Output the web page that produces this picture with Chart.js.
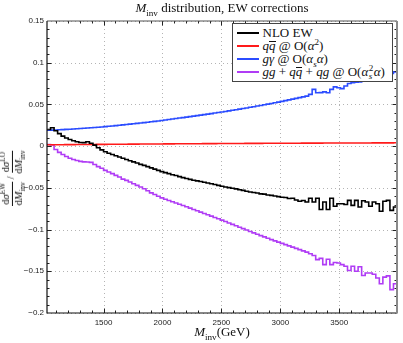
<!DOCTYPE html>
<html>
<head>
<meta charset="utf-8">
<script src="https://cdn.jsdelivr.net/npm/chart.js@4.4.0/dist/chart.umd.min.js"></script>
<style>
body { margin: 0; background: #fff; }
#wrap { position: relative; width: 403px; height: 343px; overflow: hidden; font-family: 'Liberation Serif', serif; color: #111; }
#chart { position: absolute; left: 0; top: 0; }
#title { position: absolute; left: 47px; width: 350px; top: 0; line-height: 16px; text-align: center; font-size: 13px; }
#xlabel { position: absolute; left: 47px; width: 350px; top: 324px; line-height: 16px; text-align: center; font-size: 13px; }
#ylabel { position: absolute; left: 12px; top: 178px; transform: translate(-50%, -50%) rotate(-90deg); white-space: nowrap; font-size: 10.5px; }
.frac { display: inline-flex; flex-direction: column; align-items: center; vertical-align: middle; line-height: 1.1; }
.frac > span:first-child { border-bottom: 0.8px solid #111; padding: 0 1px; }
sub, sup { font-size: 70%; line-height: 0; }
.it { font-style: italic; }
.bar { display: inline-block; border-top: 0.9px solid #111; line-height: 0.62em; padding-top: 0.5px; }
.ss { display: inline-flex; flex-direction: column; vertical-align: middle; font-size: 70%; line-height: 0.85; margin: 0 0.5px; }
#legend { position: absolute; left: 232px; top: 23px; width: 159px; height: 55px; background: #fff; border: 1.5px solid #444; padding-top: 2px; }
.row { position: relative; height: 13px; line-height: 13px; font-size: 13px; white-space: nowrap; }
.row .swatch { position: absolute; left: 4px; top: 6px; width: 22px; height: 1.6px; }
.row .txt { position: absolute; left: 29.5px; top: 0; }
</style>
</head>
<body>
<div id="wrap">
  <canvas id="chart" width="403" height="343"></canvas>
  <div id="title"><span class="it">M</span><sub>inv</sub> distribution, EW corrections</div>
  <div id="xlabel"><span class="it">M</span><sub>inv</sub>(GeV)</div>
  <div id="ylabel"><span class="frac"><span>d<span class="it">σ</span><sup>EW</sup></span><span>d<span class="it">M</span><sub>inv</sub></span></span> / <span class="frac"><span>d<span class="it">σ</span><sup>LO</sup></span><span>d<span class="it">M</span><sub>inv</sub></span></span></div>
  <div id="legend">
    <div class="row"><span class="swatch" style="background:#000"></span><span class="txt">NLO EW</span></div>
    <div class="row"><span class="swatch" style="background:#ff1a1a"></span><span class="txt"><span class="it">q<span class="bar">q</span></span> @ O(<span class="it">α</span><sup>2</sup>)</span></div>
    <div class="row"><span class="swatch" style="background:#2b4cff"></span><span class="txt"><span class="it">gγ</span> @ O(<span class="it">α<sub>s</sub>α</span>)</span></div>
    <div class="row"><span class="swatch" style="background:#b03cf5"></span><span class="txt"><span class="it">gg</span> + <span class="it">q<span class="bar">q</span></span> + <span class="it">qg</span> @ O(<span class="it">α</span><span class="ss"><span>2</span><span class="it">s</span></span><span class="it">α</span>)</span></div>
  </div>
</div>
<script>
// Histogram binning (GeV)
const BIN_LO = 1020;
const BIN_W = 30;

// Axis ticks
const XTICKS = [1500, 2000, 2500, 3000, 3500];
const YTICKS = [-0.2, -0.15, -0.1, -0.05, 0, 0.05, 0.1, 0.15];

// Ratios per bin
const NLO_EW = [
  0.0200, 0.0220, 0.0185, 0.0150, 0.0120, 0.0098, 0.0080, 0.0065, 0.0052, 0.0044,
  0.0042, 0.0052, 0.0035, 0.0012, -0.0020, -0.0045, -0.0068, -0.0085, -0.0100, -0.0115,
  -0.0130, -0.0145, -0.0160, -0.0175, -0.0188, -0.0202, -0.0218, -0.0230, -0.0245, -0.0260,
  -0.0275, -0.0290, -0.0305, -0.0318, -0.0330, -0.0342, -0.0352, -0.0365, -0.0377, -0.0388,
  -0.0398, -0.0408, -0.0416, -0.0424, -0.0432, -0.0441, -0.0450, -0.0460, -0.0470, -0.0480,
  -0.0490, -0.0497, -0.0505, -0.0512, -0.0522, -0.0530, -0.0540, -0.0550, -0.0556, -0.0562,
  -0.0572, -0.0575, -0.0585, -0.0590, -0.0597, -0.0605, -0.0612, -0.0615, -0.0628, -0.0625,
  -0.0645, -0.0660, -0.0652, -0.0670, -0.0625, -0.0670, -0.0625, -0.0760, -0.0670, -0.0760,
  -0.0625, -0.0720, -0.0690, -0.0690, -0.0700, -0.0650, -0.0710, -0.0650, -0.0730, -0.0655,
  -0.0670, -0.0720, -0.0670, -0.0690, -0.0780, -0.0660, -0.0650, -0.0770, -0.0730
];
const QQ_A2 = [
  0.0016, 0.0016, 0.0017, 0.0017, 0.0017, 0.0018, 0.0018, 0.0018, 0.0019, 0.0019,
  0.0019, 0.0020, 0.0020, 0.0020, 0.0021, 0.0021, 0.0021, 0.0022, 0.0022, 0.0022,
  0.0023, 0.0023, 0.0023, 0.0024, 0.0024, 0.0024, 0.0025, 0.0025, 0.0025, 0.0026,
  0.0026, 0.0026, 0.0026, 0.0027, 0.0027, 0.0027, 0.0028, 0.0028, 0.0028, 0.0028,
  0.0029, 0.0029, 0.0029, 0.0029, 0.0030, 0.0030, 0.0030, 0.0030, 0.0031, 0.0031,
  0.0031, 0.0031, 0.0032, 0.0032, 0.0032, 0.0032, 0.0033, 0.0033, 0.0033, 0.0033,
  0.0033, 0.0034, 0.0034, 0.0034, 0.0034, 0.0034, 0.0035, 0.0035, 0.0035, 0.0035,
  0.0035, 0.0035, 0.0036, 0.0036, 0.0036, 0.0036, 0.0036, 0.0036, 0.0037, 0.0037,
  0.0037, 0.0037, 0.0037, 0.0037, 0.0037, 0.0038, 0.0038, 0.0038, 0.0038, 0.0038,
  0.0038, 0.0038, 0.0039, 0.0039, 0.0039, 0.0039, 0.0039, 0.0039, 0.0040
];
const GA_ASA = [
  0.0190, 0.0192, 0.0194, 0.0196, 0.0198, 0.0201, 0.0203, 0.0206, 0.0208, 0.0211,
  0.0214, 0.0217, 0.0220, 0.0223, 0.0227, 0.0230, 0.0234, 0.0238, 0.0242, 0.0246,
  0.0251, 0.0255, 0.0259, 0.0264, 0.0268, 0.0273, 0.0277, 0.0282, 0.0287, 0.0292,
  0.0297, 0.0302, 0.0308, 0.0314, 0.0320, 0.0326, 0.0331, 0.0337, 0.0342, 0.0348,
  0.0354, 0.0360, 0.0366, 0.0372, 0.0378, 0.0384, 0.0390, 0.0397, 0.0403, 0.0410,
  0.0416, 0.0423, 0.0430, 0.0437, 0.0444, 0.0451, 0.0458, 0.0466, 0.0473, 0.0481,
  0.0488, 0.0496, 0.0504, 0.0512, 0.0520, 0.0528, 0.0537, 0.0545, 0.0554, 0.0563,
  0.0572, 0.0581, 0.0591, 0.0600, 0.0620, 0.0680, 0.0640, 0.0642, 0.0650, 0.0640,
  0.0680, 0.0710, 0.0700, 0.0690, 0.0720, 0.0750, 0.0760, 0.0765, 0.0770, 0.0780,
  0.0790, 0.0800, 0.0795, 0.0820, 0.0830, 0.0815, 0.0850, 0.0870, 0.0890
];
const GG_AS2A = [
  0.0020, 0.0015, -0.0040, -0.0075, -0.0100, -0.0125, -0.0145, -0.0160, -0.0172, -0.0182,
  -0.0188, -0.0190, -0.0195, -0.0220, -0.0245, -0.0265, -0.0290, -0.0310, -0.0330, -0.0350,
  -0.0370, -0.0395, -0.0410, -0.0430, -0.0450, -0.0470, -0.0490, -0.0510, -0.0535, -0.0560,
  -0.0580, -0.0600, -0.0620, -0.0637, -0.0652, -0.0667, -0.0682, -0.0697, -0.0712, -0.0727,
  -0.0743, -0.0759, -0.0775, -0.0791, -0.0807, -0.0823, -0.0839, -0.0855, -0.0871, -0.0887,
  -0.0904, -0.0921, -0.0938, -0.0955, -0.0972, -0.0989, -0.1006, -0.1023, -0.1040, -0.1056,
  -0.1072, -0.1088, -0.1104, -0.1120, -0.1136, -0.1150, -0.1165, -0.1180, -0.1195, -0.1210,
  -0.1225, -0.1240, -0.1255, -0.1270, -0.1290, -0.1310, -0.1360, -0.1345, -0.1420, -0.1355,
  -0.1420, -0.1395, -0.1400, -0.1420, -0.1440, -0.1490, -0.1440, -0.1500, -0.1445, -0.1550,
  -0.1520, -0.1520, -0.1535, -0.1580, -0.1650, -0.1570, -0.1555, -0.1720, -0.1650
];

const X_MIN = BIN_LO;
const X_MAX = BIN_LO + BIN_W * NLO_EW.length;

// Turn bin contents into step points (left edges + closing right edge)
function toSteps(values) {
    const pts = values.map((v, i) => ({ x: BIN_LO + BIN_W * i, y: v }));
    pts.push({ x: BIN_LO + BIN_W * values.length, y: values[values.length - 1] });
    return pts;
}

function histSet(label, values, color) {
    return {
        label: label,
        data: toSteps(values),
        borderColor: color,
        backgroundColor: color,
        borderWidth: 1.6,
        pointRadius: 0,
        stepped: 'before',
        fill: false
    };
}

// Dotted grid, inward ticks on all four sides, frame
const framePlugin = {
    id: 'frame',
    beforeDatasetsDraw(chart) {
        const { ctx, chartArea: a, scales: { x, y } } = chart;
        ctx.save();
        ctx.strokeStyle = '#b4b4b4';
        ctx.lineWidth = 1;
        ctx.setLineDash([1, 3]);
        XTICKS.forEach(v => {
            const px = Math.round(x.getPixelForValue(v)) + 0.5;
            ctx.beginPath(); ctx.moveTo(px, a.top); ctx.lineTo(px, a.bottom); ctx.stroke();
        });
        YTICKS.forEach(v => {
            const py = Math.round(y.getPixelForValue(v)) + 0.5;
            ctx.beginPath(); ctx.moveTo(a.left, py); ctx.lineTo(a.right, py); ctx.stroke();
        });
        ctx.restore();
    },
    afterDatasetsDraw(chart) {
        const { ctx, chartArea: a, scales: { x, y } } = chart;
        ctx.save();
        ctx.strokeStyle = '#222';
        ctx.lineWidth = 1;
        for (let v = 1100; v < X_MAX; v += 100) {
            const px = Math.round(x.getPixelForValue(v)) + 0.5;
            const len = v % 500 === 0 ? 4.5 : 2.5;
            ctx.beginPath();
            ctx.moveTo(px, a.bottom); ctx.lineTo(px, a.bottom - len);
            ctx.moveTo(px, a.top); ctx.lineTo(px, a.top + len);
            ctx.stroke();
        }
        for (let k = -19; k <= 14; k++) {
            const py = Math.round(y.getPixelForValue(k / 100)) + 0.5;
            const len = k % 5 === 0 ? 4.5 : 2.5;
            ctx.beginPath();
            ctx.moveTo(a.left, py); ctx.lineTo(a.left + len, py);
            ctx.moveTo(a.right, py); ctx.lineTo(a.right - len, py);
            ctx.stroke();
        }
        // frame
        ctx.lineWidth = 1.2;
        ctx.strokeStyle = '#111';
        ctx.beginPath();
        ctx.moveTo(a.left, a.top); ctx.lineTo(a.left, a.bottom); ctx.lineTo(a.right, a.bottom);
        ctx.stroke();
        ctx.strokeStyle = '#555';
        ctx.beginPath(); ctx.moveTo(a.left, a.top); ctx.lineTo(a.right, a.top); ctx.stroke();
        ctx.strokeStyle = '#8a8a8a';
        ctx.lineWidth = 2;
        ctx.beginPath(); ctx.moveTo(a.right, a.top); ctx.lineTo(a.right, a.bottom + 0.5); ctx.stroke();
        ctx.restore();
    }
};

const ctx = document.getElementById('chart').getContext('2d');
const chart = new Chart(ctx, {
    type: 'line',
    data: {
        datasets: [
            histSet('NLO EW', NLO_EW, '#000000'),
            histSet('qq @ O(a^2)', QQ_A2, '#ff1a1a'),
            histSet('g gamma @ O(as a)', GA_ASA, '#2b4cff'),
            histSet('gg + qq + qg @ O(as^2 a)', GG_AS2A, '#b03cf5')
        ]
    },
    options: {
        responsive: false,
        animation: false,
        devicePixelRatio: 1,
        layout: { padding: { top: 21, right: 6, left: 0, bottom: 0 } },
        plugins: {
            legend: { display: false },
            tooltip: { enabled: false }
        },
        scales: {
            x: {
                type: 'linear',
                min: X_MIN,
                max: X_MAX,
                afterBuildTicks: axis => { axis.ticks = XTICKS.map(v => ({ value: v })); },
                afterFit: axis => { axis.height = 30; },
                grid: { display: false, drawTicks: false },
                border: { display: false },
                ticks: {
                    padding: 5,
                    maxRotation: 0,
                    color: '#222',
                    font: { family: 'Liberation Sans', size: 8 },
                    callback: v => String(v)
                }
            },
            y: {
                min: -0.2,
                max: 0.15,
                afterBuildTicks: axis => { axis.ticks = YTICKS.map(v => ({ value: v })); },
                afterFit: axis => { axis.width = 47; },
                grid: { display: false, drawTicks: false },
                border: { display: false },
                ticks: {
                    padding: 3,
                    color: '#222',
                    font: { family: 'Liberation Sans', size: 8 },
                    callback: v => v < 0 ? '\u2212' + String(Math.abs(v)) : String(v)
                }
            }
        }
    },
    plugins: [framePlugin]
});
</script>
</body>
</html>
